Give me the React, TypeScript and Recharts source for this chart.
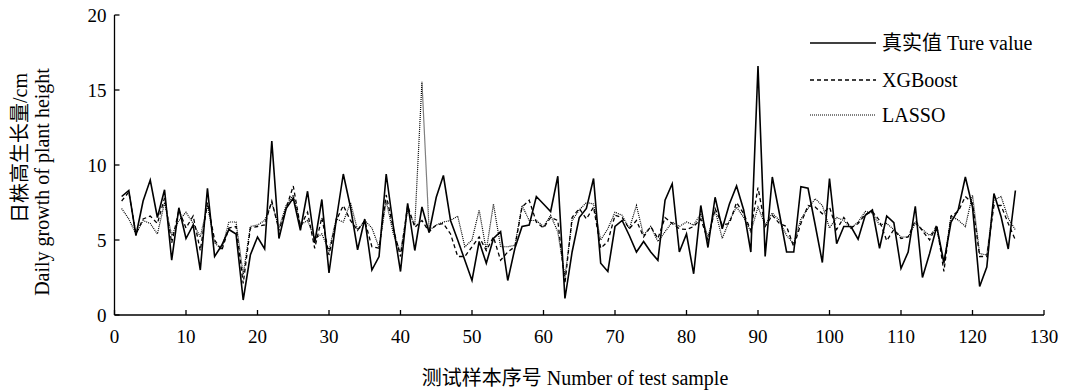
import { LineChart, Line, XAxis, YAxis } from 'recharts';

// 真实值 Ture value, samples 1..126
const trueValue = [
  7.9, 8.3, 5.3, 7.6, 9.0, 6.5, 8.35, 3.65, 7.15, 5.1,
  6.0, 3.0, 8.45, 3.9, 4.65, 5.7, 5.4, 1.0, 4.0, 5.2,
  4.4, 11.6, 5.1, 7.1, 7.8, 5.65, 8.25, 4.8, 7.7, 2.8,
  6.3, 9.4, 7.2, 4.35, 6.4, 3.0, 3.9, 9.4, 5.9, 2.9,
  7.45, 4.3, 7.2, 5.5, 7.85, 9.3, 6.3, 5.0, 3.65, 2.3,
  4.9, 3.45, 5.1, 5.55, 2.3, 4.45, 5.9, 6.0, 7.9, 7.4,
  6.9, 9.25, 1.1, 4.2, 6.5, 7.1, 9.1, 3.45, 2.9, 5.9,
  6.3, 5.3, 4.2, 4.9, 4.2, 3.65, 7.65, 8.75, 4.2, 5.4,
  2.75, 7.3, 4.5, 7.85, 5.75, 7.4, 8.6, 7.0, 4.2, 16.6,
  3.9, 9.2, 6.75, 4.2, 4.2, 8.55, 8.45, 6.0, 3.5, 9.1,
  4.75, 5.9, 5.9, 5.05, 6.65, 7.0, 4.45, 6.6, 6.15, 3.1,
  4.2, 7.25, 2.5, 4.1, 5.9, 3.5, 6.2, 7.0, 9.2, 7.2,
  1.9, 3.2, 8.1, 6.55, 4.4, 8.3,
];

const xgboost = [
  7.6, 8.2, 5.4, 6.4, 6.6, 6.1, 7.8, 4.8, 7.0, 5.8,
  6.6, 4.3, 7.5, 5.0, 4.3, 5.8, 5.9, 2.1, 5.8, 5.9,
  6.0, 7.6, 5.65, 7.1, 8.6, 5.9, 6.85, 4.45, 6.5, 4.0,
  6.3, 7.3, 6.3, 5.65, 6.3, 4.55, 4.45, 8.0, 5.75, 3.9,
  7.3, 5.85, 6.3, 5.55, 6.0, 6.1, 5.4, 3.9, 3.9, 4.55,
  5.2, 4.3, 5.2, 3.65, 4.2, 4.55, 7.2, 7.65, 6.2, 5.8,
  6.5, 6.3, 2.1, 6.5, 7.1, 6.4, 7.2, 4.45, 4.9, 6.65,
  6.5, 5.75, 6.3, 5.2, 5.9, 5.1, 6.5, 6.1, 5.75, 5.7,
  5.9, 6.4, 5.0, 7.1, 6.0, 6.1, 7.5, 6.75, 5.65, 8.5,
  5.9, 6.65, 6.1, 5.9, 4.55, 6.1, 7.3, 7.2, 6.75, 7.2,
  5.7, 6.5, 5.8, 6.1, 6.7, 6.9, 6.3, 4.95, 5.7, 5.1,
  5.2, 6.3, 5.6, 5.0, 6.0, 2.9, 6.6, 6.9, 7.9, 7.45,
  3.9, 3.9, 7.3, 7.3, 6.1, 5.0,
];

const lasso = [
  7.1, 6.4, 5.4, 6.3, 6.1, 5.4, 7.5, 5.3, 6.3, 6.85,
  6.1, 5.2, 7.3, 4.8, 4.4, 6.2, 6.2, 2.7, 5.9, 6.0,
  6.3, 7.5, 5.8, 7.3, 8.0, 6.0, 6.3, 5.1, 5.4, 4.3,
  6.4, 6.2, 7.5, 5.65, 6.3, 5.8, 4.5, 7.6, 5.4, 4.2,
  7.0, 6.0, 15.55, 5.65, 6.0, 6.2, 6.3, 6.6, 4.55, 5.0,
  7.0, 4.3, 7.4, 4.55, 4.55, 4.65, 7.3, 6.3, 6.3, 5.9,
  6.65, 5.55, 2.55, 6.3, 7.0, 7.5, 7.4, 5.0, 5.75, 6.85,
  6.65, 5.75, 7.3, 5.3, 5.9, 4.9, 5.55, 6.2, 5.9, 6.2,
  6.0, 6.75, 5.2, 7.0, 5.1, 6.3, 7.2, 6.5, 5.55, 7.2,
  6.0, 6.8, 6.3, 5.3, 4.75, 6.4, 7.1, 7.75, 7.3, 5.8,
  6.5, 6.3, 5.8, 6.2, 6.9, 6.8, 6.0, 6.1, 5.7, 5.2,
  5.2, 6.1, 5.7, 5.3, 5.8, 3.4, 6.6, 6.33, 5.9, 8.0,
  4.1, 4.0, 7.67, 7.9, 6.45, 5.67,
];

const xTicks = [0, 10, 20, 30, 40, 50, 60, 70, 80, 90, 100, 110, 120, 130];
const yTicks = [0, 5, 10, 15, 20];

const FONT = '"Liberation Serif", "Noto Sans CJK SC", serif';

const data = trueValue.map((v, i) => ({
  n: i + 1,
  trueValue: v,
  xgboost: xgboost[i],
  lasso: lasso[i],
}));

const legendItems = [
  { label: '真实值 Ture value', dash: undefined, width: 1.6, y: 43 },
  { label: 'XGBoost', dash: '4 3', width: 1.3, y: 80 },
  { label: 'LASSO', dash: '1 1', width: 1.2, y: 115 },
];

export default function App() {
  return (
    <div style={{ position: 'fixed', left: 0, top: 0, width: 1071, height: 392, background: '#fff', fontFamily: FONT }}>
      <LineChart width={1071} height={392} data={data} margin={{ top: 15, right: 27, bottom: 47, left: 54.5 }}>
        <XAxis
          dataKey="n"
          type="number"
          domain={[0, 130]}
          ticks={xTicks}
          height={30}
          tickSize={-5}
          tickMargin={20}
          axisLine={{ stroke: '#000', strokeWidth: 1.3 }}
          tickLine={{ stroke: '#000', strokeWidth: 1.3 }}
          tick={{ fill: '#000', fontSize: 19, fontFamily: FONT }}
        />
        <YAxis
          type="number"
          domain={[0, 20]}
          ticks={yTicks}
          width={60}
          tickSize={-5}
          tickMargin={13}
          axisLine={{ stroke: '#000', strokeWidth: 1.3 }}
          tickLine={{ stroke: '#000', strokeWidth: 1.3 }}
          tick={{ fill: '#000', fontSize: 19, fontFamily: FONT }}
        />
        <Line dataKey="lasso" stroke="#000" strokeWidth={1.2} strokeDasharray="1 1" dot={false} isAnimationActive={false} />
        <Line dataKey="xgboost" stroke="#000" strokeWidth={1.3} strokeDasharray="4 3" dot={false} isAnimationActive={false} />
        <Line dataKey="trueValue" stroke="#000" strokeWidth={1.6} dot={false} isAnimationActive={false} />
      </LineChart>

      <svg width={1071} height={392} style={{ position: 'absolute', left: 0, top: 0, pointerEvents: 'none' }}>
        {legendItems.map((it) => (
          <g key={it.label}>
            <line x1={810} x2={876} y1={it.y} y2={it.y} stroke="#000" strokeWidth={it.width} strokeDasharray={it.dash} />
            <text x={882} y={it.y} dominantBaseline="central" fontSize={20} fontFamily={FONT} fill="#000">
              {it.label}
            </text>
          </g>
        ))}
        <text transform="translate(20,148) rotate(-90)" textAnchor="middle" dominantBaseline="central" fontSize={20} fontFamily={FONT} fill="#000">
          日株高生长量/cm
        </text>
        <text transform="translate(42,182) rotate(-90)" textAnchor="middle" dominantBaseline="central" fontSize={20} fontFamily={FONT} fill="#000">
          Daily growth of plant height
        </text>
        <text x={575} y={378} textAnchor="middle" dominantBaseline="central" fontSize={20} fontFamily={FONT} fill="#000">
          测试样本序号 Number of test sample
        </text>
      </svg>
    </div>
  );
}
